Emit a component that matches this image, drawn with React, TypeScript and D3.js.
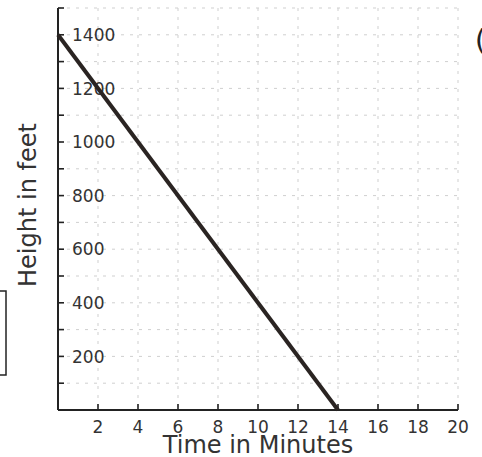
import React from "react";
import * as d3 from "d3";

const timeMinutes = [0, 14];
const heightFeet = [1400, 0];
const xTickValues = [2, 4, 6, 8, 10, 12, 14, 16, 18, 20];
const yLabelValues = [200, 400, 600, 800, 1000, 1200, 1400];
const yMinorValues = [100, 200, 300, 400, 500, 600, 700, 800, 900, 1000, 1100, 1200, 1300, 1400, 1500];
const xTitle = "Time in Minutes";
const yTitle = "Height in feet";

const W = 482;
const H = 457;
const FONT = "'DejaVu Sans', sans-serif";

export default function App() {
  const x = d3.scaleLinear().domain([0, 20]).range([58, 458]);
  const y = d3.scaleLinear().domain([0, 1500]).range([410, 8]);
  const pts = timeMinutes.map((t, i) => [t, heightFeet[i]] as [number, number]);
  const line = d3
    .line<[number, number]>()
    .x((d) => x(d[0]))
    .y((d) => y(d[1]));

  return (
    <svg
      width={W}
      height={H}
      style={{ position: "absolute", left: 0, top: 0, background: "#fff" }}
    >
      <rect x={0} y={0} width={W} height={H} fill="#fff" />
      {/* grid */}
      {xTickValues.map((v) => (
        <line
          key={"gx" + v}
          x1={x(v)}
          x2={x(v)}
          y1={y(1500)}
          y2={y(0)}
          stroke="#cfcfcf"
          strokeWidth={1}
          strokeDasharray="3,6"
        />
      ))}
      {yMinorValues.map((v) => (
        <line
          key={"gy" + v}
          x1={x(0)}
          x2={x(20)}
          y1={y(v)}
          y2={y(v)}
          stroke="#cfcfcf"
          strokeWidth={1}
          strokeDasharray="3,6"
        />
      ))}
      {/* axes */}
      <line x1={x(0)} x2={x(0)} y1={y(1500)} y2={y(0)} stroke="#222" strokeWidth={2} />
      <line x1={x(0)} x2={x(20)} y1={y(0)} y2={y(0)} stroke="#222" strokeWidth={2} />
      {yMinorValues.map((v) => (
        <line key={"ty" + v} x1={x(0)} x2={x(0) + 6} y1={y(v)} y2={y(v)} stroke="#222" strokeWidth={1.6} />
      ))}
      {xTickValues.map((v) => (
        <line key={"tx" + v} x1={x(v)} x2={x(v)} y1={y(0)} y2={y(0) - 6} stroke="#222" strokeWidth={1.6} />
      ))}
      {/* tick labels */}
      {yLabelValues.map((v) => (
        <text
          key={"ly" + v}
          x={x(0) + 14}
          y={y(v)}
          dy="0.36em"
          fontFamily={FONT}
          fontSize={17}
          fill="#333"
        >
          {v}
        </text>
      ))}
      {xTickValues.map((v) => (
        <text
          key={"lx" + v}
          x={x(v)}
          y={433}
          textAnchor="middle"
          fontFamily={FONT}
          fontSize={17}
          fill="#333"
        >
          {v}
        </text>
      ))}
      {/* data line */}
      <path d={line(pts) || ""} fill="none" stroke="#2a2422" strokeWidth={4} />
      {/* titles */}
      <text x={258} y={453} textAnchor="middle" fontFamily={FONT} fontSize={24} fill="#333">
        {xTitle}
      </text>
      <text
        transform={`translate(36,205) rotate(-90)`}
        textAnchor="middle"
        fontFamily={FONT}
        fontSize={24}
        fill="#333"
      >
        {yTitle}
      </text>
      {/* cropped page fragments */}
      <rect x={-1} y={291} width={7} height={84} fill="none" stroke="#222" strokeWidth={1.5} />
      <text x={475} y={50} fontFamily={FONT} fontSize={28} fill="#222">
        (
      </text>
    </svg>
  );
}
